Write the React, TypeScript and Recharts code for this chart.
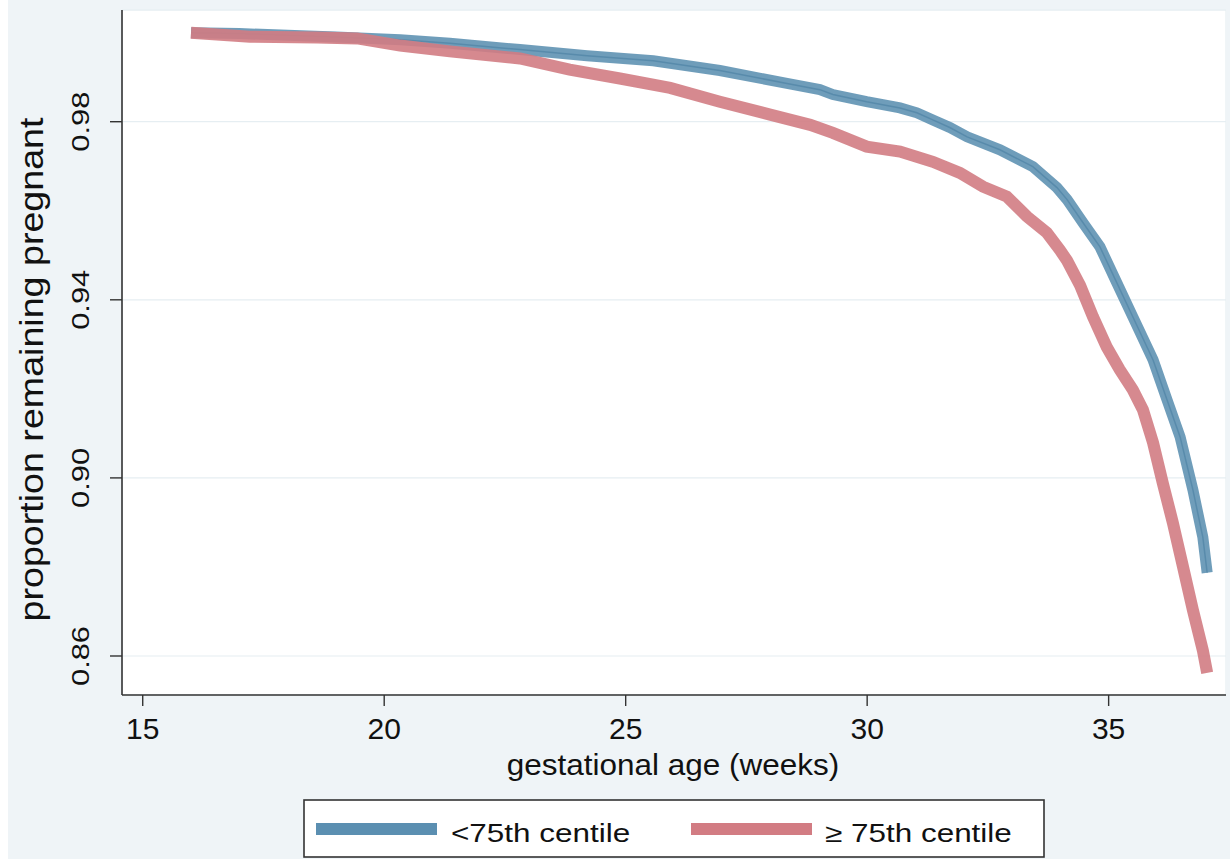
import React from 'react';
import { LineChart, Line, XAxis, YAxis, CartesianGrid, Label, ReferenceArea } from 'recharts';

const xTicks = [15, 20, 25, 30, 35];
const yTicks = [0.86, 0.9, 0.94, 0.98];
const xDomain = [14.571, 37.43];
const yDomain = [0.85124, 1.00509];

const xTitle = 'gestational age (weeks)';
const yTitle = 'proportion remaining pregnant';

const seriesNames = ['<75th centile', '≥ 75th centile'];
const seriesColors = ['#5b8fb1', '#d27c83'];

const blueWeeks = [16.0, 17.0, 18.0, 19.0, 20.33, 21.36, 22.81, 24.2, 25.57, 26.95, 28.34, 29.02, 29.29, 29.99, 30.68, 31.03, 31.36, 31.71, 32.07, 32.75, 33.43, 33.93, 34.14, 34.47, 34.82, 35.17, 35.5, 35.92, 36.21, 36.48, 36.745, 36.95, 37.04];
const blueSurv = [1.0, 0.9998, 0.9994, 0.999, 0.9984, 0.9976, 0.9962, 0.9948, 0.9937, 0.9915, 0.9886, 0.9872, 0.9861, 0.9845, 0.9831, 0.982, 0.9804, 0.9787, 0.9766, 0.9737, 0.9699, 0.9652, 0.9625, 0.9573, 0.9519, 0.9438, 0.9362, 0.9265, 0.9175, 0.9092, 0.8973, 0.8867, 0.8787];

const redWeeks = [16.0, 17.22, 18.61, 19.44, 20.33, 21.36, 22.81, 23.84, 24.88, 25.92, 26.95, 27.99, 28.82, 29.29, 29.99, 30.68, 31.36, 31.92, 32.4, 32.89, 33.31, 33.72, 33.99, 34.14, 34.41, 34.675, 34.96, 35.23, 35.5, 35.71, 35.92, 36.12, 36.33, 36.54, 36.745, 36.95, 37.04];
const redSurv = [1.0, 0.9991, 0.9989, 0.9987, 0.9971, 0.9958, 0.9942, 0.9917, 0.9897, 0.9876, 0.9845, 0.9816, 0.9793, 0.9775, 0.9744, 0.9733, 0.971, 0.9685, 0.9654, 0.9632, 0.9587, 0.9551, 0.9512, 0.9488, 0.9432, 0.9362, 0.9294, 0.9243, 0.9198, 0.9153, 0.9079, 0.8989, 0.8899, 0.88, 0.8703, 0.8613, 0.8562];

const toRows = (w: number[], s: number[]) => w.map((week, i) => ({ week, value: s[i] }));
const blueRows = toRows(blueWeeks, blueSurv);
const redRows = toRows(redWeeks, redSurv);

const FONT = '"Liberation Sans", Arial, Helvetica, sans-serif';
const TEXT = '#111111';
const AXIS = '#333333';

const XTick = (props: any) => {
  const { x, y, payload } = props;
  return (
    <text x={x} y={y} dy={31} textAnchor="middle" fontFamily={FONT} fontSize={30} fill={TEXT}>
      {payload.value}
    </text>
  );
};

const YTick = (props: any) => {
  const { x, y, payload } = props;
  return (
    <text
      transform={`translate(${x},${y}) rotate(-90) scale(1.34,1)`}
      textAnchor="middle"
      fontFamily={FONT}
      fontSize={23}
      fill={TEXT}
    >
      {Number(payload.value).toFixed(2)}
    </text>
  );
};

const YTitle = (props: any) => {
  const vb = props.viewBox || { x: 0, y: 10, width: 122, height: 685 };
  const cy = vb.y + vb.height / 2 + 17;
  return (
    <text
      transform={`translate(43,${cy}) rotate(-90) scale(1.14,1)`}
      textAnchor="middle"
      fontFamily={FONT}
      fontSize={33}
      fill={TEXT}
    >
      {yTitle}
    </text>
  );
};

const XTitle = (props: any) => {
  const vb = props.viewBox || { x: 122, y: 695, width: 1104, height: 164 };
  const cx = vb.x + vb.width / 2 - 1;
  return (
    <text
      transform={`translate(${cx},775) scale(1.05,1)`}
      textAnchor="middle"
      fontFamily={FONT}
      fontSize={30}
      fill={TEXT}
    >
      {xTitle}
    </text>
  );
};

const legendSwatchX = [13, 388];
const legendTextX = [148, 522];

const LegendBox = () => (
  <svg
    width={742}
    height={59}
    style={{ position: 'absolute', left: 303, top: 799 }}
  >
    <rect x={1} y={1} width={740} height={57} fill="#ffffff" stroke={AXIS} strokeWidth={1.6} />
    {seriesNames.map((name, i) => (
      <g key={name}>
        <rect x={legendSwatchX[i]} y={24} width={121} height={12} fill={seriesColors[i]} />
        <text
          transform={`translate(${legendTextX[i]},43) scale(1.21,1)`}
          fontFamily={FONT}
          fontSize={26}
          fill={TEXT}
        >
          {name}
        </text>
      </g>
    ))}
  </svg>
);

export default function App() {
  return (
    <div style={{ position: 'absolute', left: 0, top: 0, width: 1230, height: 859, background: '#ffffff', overflow: 'hidden' }}>
      <div style={{ position: 'absolute', left: 8, top: 0, width: 1222, height: 859, background: '#eff4f7' }} />
      <div style={{ position: 'absolute', left: 0, top: 0 }}>
        <LineChart width={1230} height={859} margin={{ top: 10, right: 4, bottom: 0, left: 0 }}>
          <CartesianGrid vertical={false} horizontal stroke="#e6eef2" strokeWidth={1.2} fill="#ffffff" />
          <ReferenceArea
            x1={xDomain[0]}
            x2={xDomain[1]}
            y1={yDomain[0]}
            y2={yDomain[1]}
            fill="none"
            fillOpacity={0}
            stroke="#e6eef2"
            strokeWidth={1.2}
            ifOverflow="hidden"
          />
          <XAxis
            type="number"
            dataKey="week"
            domain={xDomain}
            ticks={xTicks}
            allowDataOverflow
            height={164}
            tickSize={11}
            tickMargin={2}
            axisLine={{ stroke: AXIS, strokeWidth: 1.6 }}
            tickLine={{ stroke: AXIS, strokeWidth: 1.4 }}
            tick={<XTick />}
          >
            <Label content={<XTitle />} />
          </XAxis>
          <YAxis
            type="number"
            domain={yDomain}
            ticks={yTicks}
            allowDataOverflow
            width={122}
            tickSize={12}
            tickMargin={21}
            axisLine={{ stroke: AXIS, strokeWidth: 1.6 }}
            tickLine={{ stroke: AXIS, strokeWidth: 1.4 }}
            tick={<YTick />}
          >
            <Label content={<YTitle />} />
          </YAxis>
          <Line
            data={blueRows}
            dataKey="value"
            name={seriesNames[0]}
            type="linear"
            stroke={seriesColors[0]}
            strokeWidth={11}
            strokeOpacity={0.88}
            strokeLinecap="butt"
            dot={false}
            isAnimationActive={false}
          />
          <Line
            data={blueRows}
            dataKey="value"
            name={seriesNames[0] + ' centre'}
            type="linear"
            stroke="#4a7ea2"
            strokeWidth={1.5}
            strokeOpacity={0.6}
            dot={false}
            isAnimationActive={false}
            legendType="none"
          />
          <Line
            data={redRows}
            dataKey="value"
            name={seriesNames[1]}
            type="linear"
            stroke={seriesColors[1]}
            strokeWidth={12}
            strokeOpacity={0.9}
            strokeLinecap="butt"
            dot={false}
            isAnimationActive={false}
          />
        </LineChart>
      </div>
      <LegendBox />
    </div>
  );
}
